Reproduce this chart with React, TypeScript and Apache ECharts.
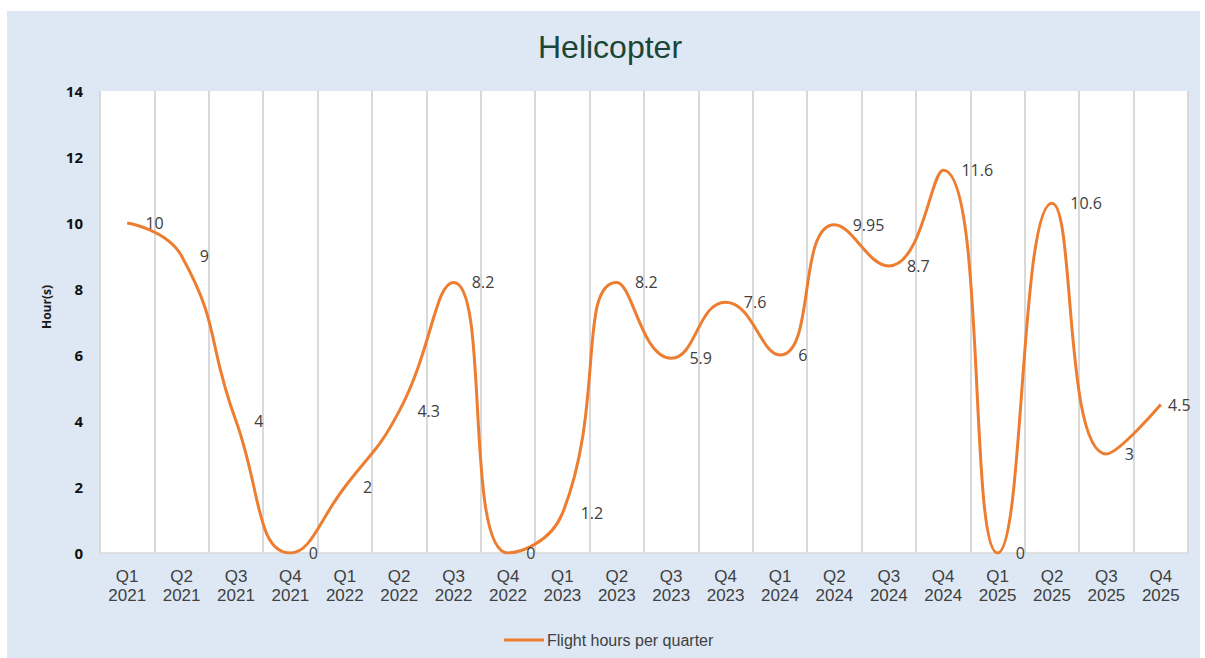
import React, { useEffect, useRef } from "react";
import * as echarts from "echarts";

const quarters = ["Q1", "Q2", "Q3", "Q4", "Q1", "Q2", "Q3", "Q4", "Q1", "Q2", "Q3", "Q4", "Q1", "Q2", "Q3", "Q4", "Q1", "Q2", "Q3", "Q4"];
const years = ["2021", "2021", "2021", "2021", "2022", "2022", "2022", "2022", "2023", "2023", "2023", "2023", "2024", "2024", "2024", "2024", "2025", "2025", "2025", "2025"];
const flightHours = [10, 9, 4, 0, 2, 4.3, 8.2, 0, 1.2, 8.2, 5.9, 7.6, 6, 9.95, 8.7, 11.6, 0, 10.6, 3, 4.5];
const seriesName = "Flight hours per quarter";
const chartTitle = "Helicopter";
const yAxisTitle = "Hour(s)";

export default function App() {
  const ref = useRef<HTMLDivElement>(null);
  useEffect(() => {
    if (!ref.current) return;
    const chart = echarts.init(ref.current, undefined, { renderer: "svg" });
    const categories = quarters.map((q, i) => q + "\n" + years[i]);
    const lastIndex = flightHours.length - 1;
    const seriesData = flightHours.map((v, i) =>
      i === lastIndex ? { value: v, label: { distance: 7 } } : v
    );
    chart.setOption({
      animation: false,
      backgroundColor: "#dde8f4",
      title: {
        text: chartTitle,
        left: 603,
        top: 20,
        padding: 0,
        textAlign: "center",
        textStyle: {
          fontFamily: "Liberation Sans",
          fontSize: 32,
          fontWeight: "normal",
          color: "#1b4536",
        },
      },
      graphic: [
        {
          type: "text",
          x: 39,
          y: 296,
          rotation: Math.PI / 2,
          style: {
            text: yAxisTitle,
            fontFamily: "Open Sans",
            fontWeight: "bold",
            fontSize: 12,
            fill: "#1a1a1a",
            textAlign: "center",
            textVerticalAlign: "middle",
          },
        },
      ],
      legend: {
        left: 492,
        top: 616,
        itemWidth: 40,
        itemHeight: 3,
        itemGap: 4,
        icon: "rect",
        textStyle: {
          fontFamily: "Liberation Sans",
          fontSize: 16,
          color: "#404040",
          padding: [0, 0, 0, -2],
        },
        data: [seriesName],
      },
      grid: {
        left: 93,
        right: 12,
        top: 80,
        bottom: 105,
        show: true,
        backgroundColor: "#ffffff",
        borderWidth: 0,
        containLabel: false,
      },
      xAxis: {
        type: "category",
        data: categories,
        boundaryGap: true,
        axisTick: { show: false },
        axisLine: { show: true, lineStyle: { color: "#d9d9d9", width: 1.5 } },
        splitLine: { show: true, lineStyle: { color: "#d9d9d9", width: 2 } },
        axisLabel: {
          interval: 0,
          margin: 14,
          fontFamily: "Liberation Sans",
          fontSize: 17,
          lineHeight: 19,
          color: "#404040",
        },
      },
      yAxis: {
        type: "value",
        min: 0,
        max: 14,
        interval: 2,
        axisLine: { show: false },
        axisTick: { show: false },
        splitLine: { show: false },
        axisLabel: {
          margin: 17,
          fontFamily: "Open Sans",
          fontWeight: "bold",
          fontSize: 15,
          color: "#111111",
        },
      },
      series: [
        {
          name: seriesName,
          type: "line",
          data: seriesData,
          smooth: 0.5,
          symbol: "circle",
          symbolSize: 0.5,
          showSymbol: true,
          lineStyle: { color: "#ED7D31", width: 3 },
          itemStyle: { color: "#ED7D31" },
          label: {
            show: true,
            position: "right",
            distance: 18,
            fontFamily: "Open Sans",
            fontSize: 16,
            color: "#404040",
          },
        },
      ],
    });
    return () => chart.dispose();
  }, []);
  return (
    <div style={{ position: "fixed", left: 0, top: 0, width: 1205, height: 658, background: "#ffffff" }}>
      <div
        ref={ref}
        style={{ position: "absolute", left: 7, top: 11, width: 1193, height: 647 }}
      />
    </div>
  );
}
